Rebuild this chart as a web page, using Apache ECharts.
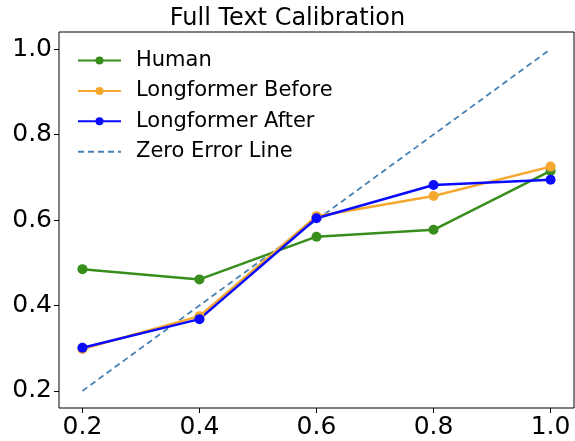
<!DOCTYPE html>
<html>
<head>
<meta charset="utf-8">
<script src="https://cdn.jsdelivr.net/npm/echarts@6/dist/echarts.min.js"></script>
<style>html,body{margin:0;padding:0;background:#fff}#c{width:575px;height:441px}</style>
</head>
<body>
<div id="c"></div>
<script>
const xValues = [0.2, 0.4, 0.6, 0.8, 1.0];
const human = [0.485, 0.461, 0.561, 0.577, 0.715];
const longBefore = [0.298, 0.375, 0.609, 0.656, 0.725];
const longAfter = [0.301, 0.368, 0.604, 0.682, 0.694];
const zeroLine = [0.2, 1.0];
const zeroX = [0.2, 1.0];
const xTicks = [0.2, 0.4, 0.6, 0.8, 1.0];
const yTicks = [0.2, 0.4, 0.6, 0.8, 1.0];

const font = 'DejaVu Sans';
const pair = (xs, ys) => xs.map((x, i) => [x, ys[i]]);

const chart = echarts.init(document.getElementById('c'));
const mkLine = (name, color, data) => ({
  name, type: 'line', data: pair(xValues, data),
  symbol: 'circle', symbolSize: 10,
  lineStyle: { color, width: 2.5 },
  itemStyle: { color },
  z: 3
});
chart.setOption({
  animation: false,
  title: {
    text: 'Full Text Calibration', left: 'center', top: 0, padding: [7, 0, 0, 0],
    textStyle: { fontFamily: font, fontSize: 24, fontWeight: 'normal', color: '#000' }
  },
  grid: { left: 59, right: 1, top: 32, bottom: 33, show: true, borderColor: '#000', borderWidth: 1,
    outerBoundsMode: 'none' },
  legend: {
    orient: 'vertical', left: 77, top: 50, padding: 0, itemWidth: 43, itemHeight: 10, itemGap: 9.4,
    textStyle: { fontFamily: font, fontSize: 21, color: '#000', padding: [0, 0, 0, 10] },
    data: ['Human', 'Longformer Before', 'Longformer After',
      { name: 'Zero Error Line', itemStyle: { opacity: 0 } }]
  },
  xAxis: {
    type: 'value', min: 0.16, max: 1.04,
    axisLine: { show: false },
    splitLine: { show: false },
    axisTick: { show: true, length: 5, lineStyle: { color: '#000' }, customValues: xTicks },
    axisLabel: { fontFamily: font, fontSize: 25, color: '#000', margin: 7, customValues: xTicks,
      formatter: v => v.toFixed(1) }
  },
  yAxis: {
    type: 'value', min: 0.16, max: 1.04,
    axisLine: { show: false },
    splitLine: { show: false },
    axisTick: { show: true, length: 5, lineStyle: { color: '#000' }, customValues: yTicks },
    axisLabel: { fontFamily: font, fontSize: 25, color: '#000', margin: 7, customValues: yTicks,
      formatter: v => v.toFixed(1) }
  },
  series: [
    mkLine('Human', '#388E1C', human),
    mkLine('Longformer Before', '#F5A82E', longBefore),
    mkLine('Longformer After', '#0A0AFF', longAfter),
    {
      name: 'Zero Error Line', type: 'line', data: pair(zeroX, zeroLine),
      symbol: 'none', lineStyle: { color: '#4682B4', width: 1.8, type: [6, 4] },
      itemStyle: { color: '#4682B4' }, z: 2
    }
  ]
});
</script>
</body>
</html>
